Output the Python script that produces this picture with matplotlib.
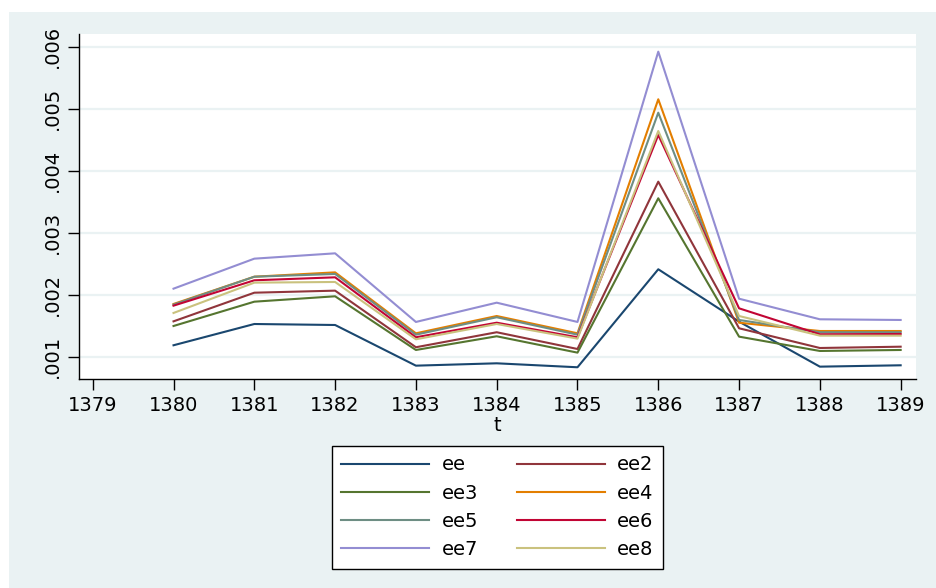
import numpy as np
import matplotlib
matplotlib.use("Agg")
import matplotlib.pyplot as plt
from matplotlib.patches import Rectangle

plt.rcParams["font.family"] = ["DejaVu Sans"]

# data
years = [1380, 1381, 1382, 1383, 1384, 1385, 1386, 1387, 1388, 1389]
ee = [0.001184, 0.001527, 0.001511, 0.000855, 0.000893, 0.000829, 0.002410, 0.001565, 0.000839, 0.000861]
ee2 = [0.001570, 0.002032, 0.002065, 0.001152, 0.001394, 0.001124, 0.003823, 0.001458, 0.001140, 0.001161]
ee3 = [0.001495, 0.001887, 0.001974, 0.001108, 0.001329, 0.001065, 0.003555, 0.001323, 0.001092, 0.001108]
ee4 = [0.001850, 0.002290, 0.002360, 0.001377, 0.001656, 0.001377, 0.005152, 0.001548, 0.001414, 0.001414]
ee5 = [0.001840, 0.002290, 0.002334, 0.001355, 0.001636, 0.001355, 0.004936, 0.001592, 0.001394, 0.001394]
ee6 = [0.001823, 0.002232, 0.002280, 0.001313, 0.001548, 0.001313, 0.004576, 0.001780, 0.001361, 0.001366]
ee7 = [0.002097, 0.002581, 0.002667, 0.001560, 0.001871, 0.001560, 0.005920, 0.001935, 0.001603, 0.001592]
ee8 = [0.001705, 0.002194, 0.002205, 0.001280, 0.001527, 0.001291, 0.004640, 0.001656, 0.001339, 0.001339]

series = [("ee", ee), ("ee2", ee2), ("ee3", ee3), ("ee4", ee4),
          ("ee5", ee5), ("ee6", ee6), ("ee7", ee7), ("ee8", ee8)]
colors = ["#1a476f", "#90353b", "#55752f", "#e37e00",
          "#6e8e84", "#c10534", "#938dd2", "#cac27e"]

x_ticks = list(range(1379, 1390))
y_ticks = [0.001, 0.002, 0.003, 0.004, 0.005, 0.006]
y_labels = [".001", ".002", ".003", ".004", ".005", ".006"]

BG = "#eaf2f3"
W, H = 937, 588
FS = 14

fig = plt.figure(figsize=(W / 100, H / 100), dpi=100, facecolor="white")
# outer graph region (stata style)
fig.add_artist(Rectangle((9 / W, 0), 1 - 9 / W, 1 - 12 / H,
                         transform=fig.transFigure, facecolor=BG,
                         edgecolor="none", zorder=-10))

ax = fig.add_axes([79 / W, 1 - 379.3 / H, (916 - 79) / W, (379.3 - 34) / H])
ax.set_facecolor("white")

lines = []
for (name, vals), c in zip(series, colors):
    ln, = ax.plot(years, vals, color=c, lw=1.5, label=name)
    lines.append(ln)

ax.set_xlim(1378.83, 1389.19)
ax.set_ylim(0.000635, 0.006205)
ax.set_xticks(x_ticks)
ax.set_xticklabels([str(t) for t in x_ticks], fontsize=FS)
ax.set_yticks(y_ticks)
ax.set_yticklabels(y_labels, fontsize=FS, rotation=90, va="center")
ax.tick_params(axis="both", direction="out", length=8, width=1, color="black", pad=4)
ax.grid(True, axis="y", color=BG, lw=1.6)
ax.set_axisbelow(True)
for s in ["top", "right"]:
    ax.spines[s].set_visible(False)
for s in ["left", "bottom"]:
    ax.spines[s].set_linewidth(1)
ax.set_xlabel("t", fontsize=FS, labelpad=1)

# stata fills legend row-wise; matplotlib fills by column
order = [0, 2, 4, 6, 1, 3, 5, 7]
leg = fig.legend([lines[i] for i in order], [series[i][0] for i in order],
                 loc="upper center", bbox_to_anchor=(497.5 / W, 1 - 445.7 / H),
                 ncol=2, fontsize=FS, frameon=True, fancybox=False,
                 edgecolor="black", facecolor="white", framealpha=1,
                 handlelength=4.5, handletextpad=0.65, columnspacing=2.0,
                 labelspacing=0.47, borderpad=0.5, borderaxespad=0)
leg.get_frame().set_linewidth(1)

plt.savefig("out.png", dpi=100, facecolor="white")
